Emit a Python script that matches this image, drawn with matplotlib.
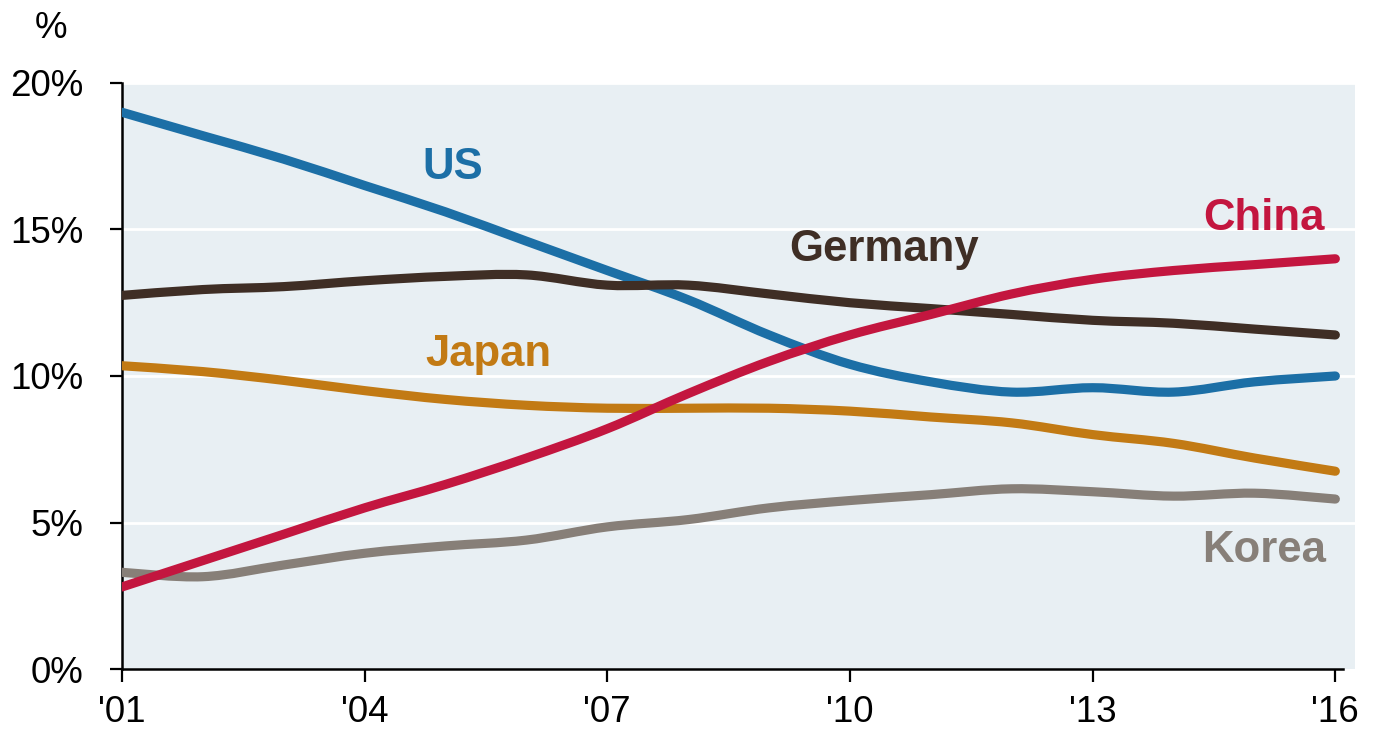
import matplotlib
matplotlib.use("Agg")
import matplotlib.pyplot as plt
from matplotlib.path import Path
from matplotlib.patches import PathPatch

plt.rcParams['font.family'] = ['Liberation Sans', 'DejaVu Sans']

years = list(range(2001, 2017))
us = [19.0, 18.2, 17.4, 16.5, 15.6, 14.6, 13.6, 12.6, 11.4, 10.4, 9.8, 9.45, 9.6, 9.45, 9.8, 10.0]
china = [2.8, 3.7, 4.6, 5.5, 6.3, 7.2, 8.2, 9.4, 10.5, 11.4, 12.1, 12.8, 13.3, 13.6, 13.8, 14.0]
germany = [12.75, 12.95, 13.05, 13.25, 13.4, 13.45, 13.1, 13.1, 12.8, 12.5, 12.3, 12.1, 11.9, 11.8, 11.6, 11.4]
japan = [10.35, 10.15, 9.85, 9.5, 9.2, 9.0, 8.9, 8.9, 8.9, 8.8, 8.6, 8.4, 8.0, 7.7, 7.2, 6.75]
korea = [3.3, 3.15, 3.55, 3.95, 4.2, 4.4, 4.85, 5.1, 5.5, 5.75, 5.95, 6.15, 6.05, 5.9, 6.0, 5.8]

series_names = ["US", "Germany", "China", "Japan", "Korea"]
tick_years = [2001, 2004, 2007, 2010, 2013, 2016]
tick_labels = ["'01", "'04", "'07", "'10", "'13", "'16"]
y_ticks = [0, 5, 10, 15, 20]
y_labels = ["0%", "5%", "10%", "15%", "20%"]

colors = {
    "US": "#1c6fa6",
    "China": "#c3163f",
    "Germany": "#3f2e25",
    "Japan": "#c27a14",
    "Korea": "#877f78",
}
data = {"US": us, "China": china, "Germany": germany, "Japan": japan, "Korea": korea}


def smooth_path(xs, ys, t=1 / 6):
    # Catmull-Rom through the data points, rendered as cubic Bezier segments
    verts = [(xs[0], ys[0])]
    codes = [Path.MOVETO]
    n = len(xs)
    for i in range(n - 1):
        x0, y0 = (xs[i - 1], ys[i - 1]) if i > 0 else (xs[i], ys[i])
        x1, y1 = xs[i], ys[i]
        x2, y2 = xs[i + 1], ys[i + 1]
        x3, y3 = (xs[i + 2], ys[i + 2]) if i + 2 < n else (xs[i + 1], ys[i + 1])
        c1 = (x1 + (x2 - x0) * t, y1 + (y2 - y0) * t)
        c2 = (x2 - (x3 - x1) * t, y2 - (y3 - y1) * t)
        verts += [c1, c2, (x2, y2)]
        codes += [Path.CURVE4] * 3
    return Path(verts, codes)


fig = plt.figure(figsize=(13.81, 7.31), dpi=100)
ax = fig.add_axes([0.0883, 0.0848, 0.981 - 0.0883, 0.8865 - 0.0848])
ax.set_facecolor("#e8eff3")

for yv in [5, 10, 15, 20]:
    ax.axhline(yv, color="white", lw=2, zorder=1)

for name in ["Korea", "Japan", "US", "Germany", "China"]:
    patch = PathPatch(smooth_path(years, data[name]), facecolor="none", edgecolor=colors[name],
                      lw=6.6, capstyle="round", joinstyle="round", zorder=3)
    ax.add_patch(patch)

ax.set_xlim(2001, 2016.24)
ax.set_ylim(0, 20)
ax.set_xticks(tick_years)
ax.set_xticklabels(tick_labels)
ax.set_yticks(y_ticks)
ax.set_yticklabels(y_labels)
ax.tick_params(axis="both", direction="out", length=9, width=1.6, labelsize=26.5, color="black")
ax.tick_params(axis="x", pad=10)
ax.tick_params(axis="y", pad=19)

for s in ["top", "right"]:
    ax.spines[s].set_visible(False)
ax.spines["left"].set_linewidth(1.8)
ax.spines["bottom"].set_linewidth(1.8)
ax.spines["bottom"].set_bounds(2001, 2016.1)

lab_fs = 31.5
ax.text(2005.09, 17.1, "US", color=colors["US"], fontsize=lab_fs, fontweight="bold", ha="center", va="center")
ax.text(2010.42, 14.3, "Germany", color=colors["Germany"], fontsize=lab_fs, fontweight="bold", ha="center", va="center")
ax.text(2015.12, 15.39, "China", color=colors["China"], fontsize=lab_fs, fontweight="bold", ha="center", va="center")
ax.text(2005.53, 10.72, "Japan", color=colors["Japan"], fontsize=lab_fs, fontweight="bold", ha="center", va="center")
ax.text(2015.12, 4.06, "Korea", color=colors["Korea"], fontsize=lab_fs, fontweight="bold", ha="center", va="center")

fig.text(51 / 1381, 1 - 28 / 731, "%", fontsize=26.5, ha="center", va="center")

fig.savefig("out.png", dpi=100)
